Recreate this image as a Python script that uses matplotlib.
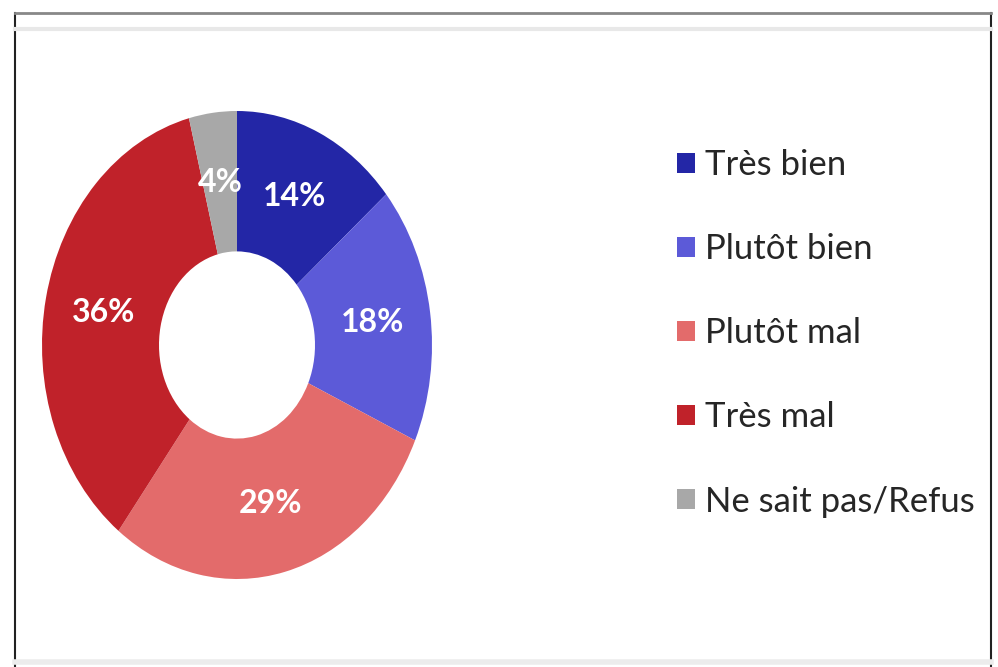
"""
Donut chart: opinion breakdown with legend on the right.
"""

import matplotlib.pyplot as plt
from matplotlib.lines import Line2D

labels = ["Très bien", "Plutôt bien", "Plutôt mal", "Très mal", "Ne sait pas/Refus"]
values = [14, 18, 29, 36, 4]
colors = ["#2326A6", "#5C5AD8", "#E36B6B", "#C0222A", "#A8A8A8"]

W, H = 998, 667
fig = plt.figure(figsize=(W / 100, H / 100), dpi=100)
fig.patch.set_facecolor("white")

# donut, slightly stretched vertically like the source picture
cx, cy, rx, ry = 237, 345, 195, 234
ax = fig.add_axes([(cx - rx) / W, (H - cy - ry) / H, 2 * rx / W, 2 * ry / H])
total = sum(values)
wedges, _, pct_texts = ax.pie(
    values,
    colors=colors,
    startangle=90,
    counterclock=False,
    radius=1.0,
    wedgeprops=dict(width=0.6, linewidth=0),
    autopct=lambda p: f"{round(p * total / 100)}%",
    pctdistance=0.7,
    textprops=dict(color="white", fontsize=23, fontweight="bold", family="Lato"),
)
ax.set_aspect("auto")
ax.set_xlim(-1, 1)
ax.set_ylim(-1, 1)

# legend on the right
leg = fig.legend(
    wedges,
    labels,
    loc="upper left",
    bbox_to_anchor=(646 / W, 1 - 118 / H),
    frameon=False,
    prop=dict(family="Lato", size=25),
    labelcolor="#262626",
    handlelength=0.5,
    handleheight=0.5,
    handletextpad=0.3,
    labelspacing=1.5,
)

# frame around the chart
frame_kw = dict(transform=fig.transFigure)
fig.add_artist(Line2D([15 / W, 15 / W], [0, 1 - 13 / H], color="#222222", lw=1.5, **frame_kw))
fig.add_artist(Line2D([991 / W, 991 / W], [0, 1 - 13 / H], color="#222222", lw=1.5, **frame_kw))
fig.add_artist(Line2D([15 / W, 991 / W], [1 - 13 / H, 1 - 13 / H], color="#888888", lw=2, **frame_kw))
fig.add_artist(Line2D([15 / W, 991 / W], [1 - 29 / H, 1 - 29 / H], color="#e8e8e8", lw=3, **frame_kw))
fig.add_artist(Line2D([15 / W, 991 / W], [1 - 662 / H, 1 - 662 / H], color="#ececec", lw=4, **frame_kw))

fig.savefig("out.png", dpi=100)
plt.close(fig)
